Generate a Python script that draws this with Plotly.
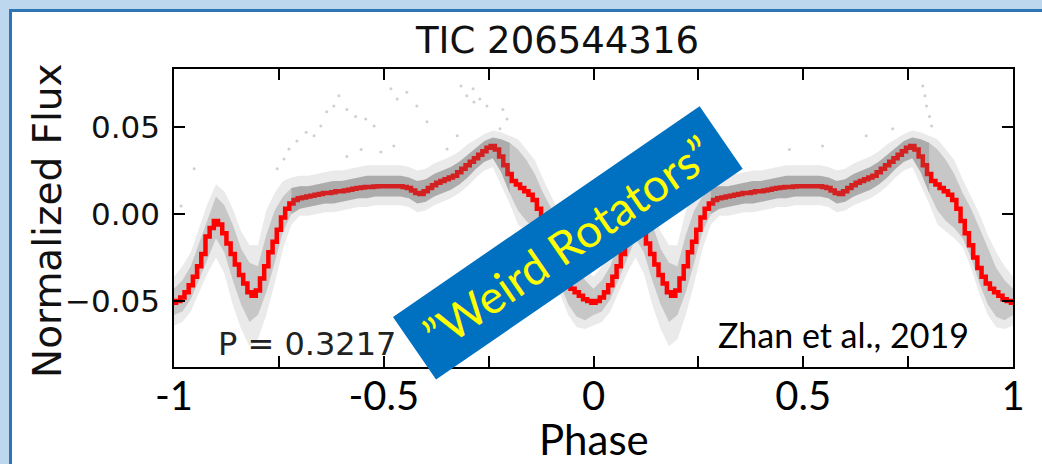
import numpy as np
import plotly.graph_objects as go

# ---- folded light curve of TIC 206544316 (one cycle, phase 0 .. 1) ----
# binned flux, bin width 0.01 in phase
bin_phase = np.round(np.arange(0.0, 1.0, 0.01), 2)
bin_flux = [
    -0.051, -0.050, -0.048, -0.045, -0.041, -0.036, -0.030, -0.023, -0.013, -0.008,
    -0.004, -0.006, -0.011, -0.017, -0.023, -0.029, -0.035, -0.040, -0.045, -0.047,
    -0.044, -0.037, -0.030, -0.022, -0.016, -0.009, -0.002, 0.003, 0.006, 0.008,
    0.009, 0.0095, 0.010, 0.0105, 0.011, 0.0115, 0.012, 0.012, 0.0125, 0.013,
    0.013, 0.0135, 0.014, 0.0145, 0.015, 0.0152, 0.0155, 0.0155, 0.0158, 0.016,
    0.016, 0.016, 0.016, 0.016, 0.016, 0.0155, 0.015, 0.0135, 0.012, 0.0115,
    0.013, 0.015, 0.0165, 0.018, 0.019, 0.020, 0.021, 0.022, 0.024, 0.026,
    0.028, 0.030, 0.032, 0.034, 0.036, 0.038, 0.039, 0.037, 0.033, 0.028,
    0.023, 0.019, 0.017, 0.015, 0.013, 0.011, 0.008, 0.003, -0.004, -0.011,
    -0.018, -0.025, -0.031, -0.036, -0.040, -0.043, -0.045, -0.047, -0.049, -0.050,
]

# spread of the unbinned photometry, sampled every 0.02 in phase
band_phase = np.round(np.arange(0.0, 1.001, 0.02), 2)
core_hi = [
    -0.043, -0.038, -0.030, -0.017, -0.004, 0.010, 0.005, -0.006, -0.020, -0.028,
    -0.030, -0.012, 0.002, 0.010, 0.015, 0.016, 0.016, 0.017, 0.018, 0.019,
    0.019, 0.020, 0.021, 0.022, 0.022, 0.022, 0.022, 0.022, 0.021, 0.019,
    0.020, 0.023, 0.025, 0.027, 0.030, 0.034, 0.038, 0.042, 0.044, 0.043,
    0.041, 0.037, 0.031, 0.023, 0.012, 0.003, -0.008, -0.020, -0.031, -0.038,
    -0.043,
]
core_lo = [
    -0.058, -0.056, -0.049, -0.037, -0.026, -0.014, -0.022, -0.038, -0.052, -0.062,
    -0.058, -0.045, -0.028, -0.010, 0.000, 0.003, 0.004, 0.005, 0.006, 0.006,
    0.007, 0.008, 0.009, 0.009, 0.010, 0.010, 0.010, 0.010, 0.009, 0.006,
    0.007, 0.010, 0.012, 0.014, 0.017, 0.021, 0.026, 0.030, 0.032, 0.024,
    0.012, 0.002, -0.004, -0.008, -0.014, -0.025, -0.040, -0.052, -0.059, -0.061,
    -0.058,
]
outer_hi = [
    -0.036, -0.030, -0.022, -0.008, 0.006, 0.017, 0.013, 0.003, -0.010, -0.018,
    -0.018, 0.002, 0.012, 0.019, 0.021, 0.022, 0.022, 0.023, 0.024, 0.025,
    0.025, 0.026, 0.027, 0.028, 0.028, 0.028, 0.028, 0.028, 0.027, 0.025,
    0.026, 0.029, 0.031, 0.033, 0.036, 0.040, 0.043, 0.046, 0.048, 0.047,
    0.045, 0.043, 0.037, 0.031, 0.020, 0.010, 0.000, -0.012, -0.022, -0.030,
    -0.036,
]
outer_lo = [
    -0.064, -0.062, -0.056, -0.045, -0.034, -0.025, -0.034, -0.052, -0.066, -0.076,
    -0.072, -0.058, -0.040, -0.020, -0.006, -0.001, -0.001, 0.000, 0.001, 0.001,
    0.002, 0.003, 0.004, 0.004, 0.005, 0.005, 0.005, 0.005, 0.004, 0.001,
    0.002, 0.005, 0.007, 0.009, 0.012, 0.016, 0.021, 0.025, 0.027, 0.017,
    0.006, -0.006, -0.010, -0.014, -0.019, -0.031, -0.046, -0.058, -0.065, -0.066,
    -0.064,
]

# scattered individual measurements well off the main sequence
stray_phase = [
    -0.983, -0.952, -0.754, -0.738, -0.726, -0.707, -0.685, -0.666, -0.650, -0.636,
    -0.619, -0.607, -0.588, -0.567, -0.543, -0.523, -0.588, -0.554, -0.483, -0.468,
    -0.445, -0.421, -0.507, -0.476, -0.316, -0.302, -0.285, -0.397, -0.349, -0.325,
    -0.287, -0.271, -0.254, -0.216, -0.206, -0.223,
    0.785, 0.790, 0.794, 0.801, 0.806, 0.650, 0.467, 0.546, 0.713,
]
stray_flux = [
    0.0046, 0.026, 0.026, 0.0316, 0.0374, 0.042, 0.047, 0.045, 0.0506, 0.0587,
    0.062, 0.068, 0.060, 0.056, 0.0546, 0.0506, 0.033, 0.037, 0.072, 0.066,
    0.070, 0.062, 0.0356, 0.039, 0.0736, 0.068, 0.0644, 0.053, 0.0374, 0.045,
    0.072, 0.066, 0.062, 0.060, 0.0546, 0.049,
    0.0736, 0.068, 0.062, 0.056, 0.0506, 0.045, 0.037, 0.039, 0.049,
]

x_tick_vals = [-1, -0.75, -0.5, -0.25, 0, 0.25, 0.5, 0.75, 1]
x_tick_text = ["-1", "", "-0.5", "", "0", "", "0.5", "", "1"]
y_tick_vals = [-0.05, 0.0, 0.05]
y_tick_text = ["\u22120.05", "0.00", "0.05"]

# ---- page geometry (pixels) ----
W, H = 1042, 464
L, R, T, B = 174, 1013, 69, 367


def px(x):
    return (x - L) / (R - L)


def py(y):
    return (B - y) / (B - T)


fig = go.Figure()

cycles = [-1.0, 0.0]

# outer (sparse) envelope of the photometry
for c in cycles:
    xs = list(band_phase + c) + list((band_phase + c)[::-1])
    ys = list(outer_hi) + list(outer_lo[::-1])
    fig.add_trace(go.Scatter(x=xs, y=ys, mode="lines", fill="toself",
                             fillcolor="rgba(140,140,140,0.18)",
                             line=dict(width=0, color="rgba(0,0,0,0)"),
                             hoverinfo="skip", showlegend=False))
# dense core of the photometry
for c in cycles:
    xs = list(band_phase + c) + list((band_phase + c)[::-1])
    ys = list(core_hi) + list(core_lo[::-1])
    fig.add_trace(go.Scatter(x=xs, y=ys, mode="lines", fill="toself",
                             fillcolor="rgba(120,120,120,0.30)",
                             line=dict(width=0, color="rgba(0,0,0,0)"),
                             hoverinfo="skip", showlegend=False))

fig.add_trace(go.Scatter(x=stray_phase, y=stray_flux, mode="markers",
                         marker=dict(size=3, color="rgba(120,120,120,0.35)"),
                         hoverinfo="skip", showlegend=False))

# binned curve, repeated over both cycles
curve_x = np.concatenate([bin_phase - 1.0, bin_phase, [1.0]])
curve_y = np.concatenate([bin_flux, bin_flux, [bin_flux[0]]])
fig.add_trace(go.Scatter(x=curve_x, y=curve_y, mode="lines",
                         line=dict(color="#ff0000", width=4.5, shape="hvh"),
                         hoverinfo="skip", showlegend=False))

# dense photometry lying over the plateau of the binned curve
k0, k1 = 14, 41
for c in cycles:
    seg = band_phase[k0:k1] + c
    xs = list(seg) + list(seg[::-1])
    ys = list(core_hi[k0:k1]) + list(core_lo[k0:k1][::-1])
    fig.add_trace(go.Scatter(x=xs, y=ys, mode="lines", fill="toself",
                             fillcolor="rgba(110,110,110,0.30)",
                             line=dict(width=0, color="rgba(0,0,0,0)"),
                             hoverinfo="skip", showlegend=False))

axis_common = dict(showline=True, linecolor="black", linewidth=1.5, mirror="ticks",
                   ticks="inside", ticklen=11, tickwidth=1.5, tickcolor="black",
                   showgrid=False, zeroline=False)

fig.update_xaxes(range=[-1, 1], tickmode="array", tickvals=x_tick_vals,
                 ticktext=x_tick_text, tickfont=dict(family="Lato", size=40, color="black"),
                 ticklabelstandoff=-7, **axis_common)
fig.update_yaxes(range=[-0.0879, 0.0833], tickmode="array", tickvals=y_tick_vals,
                 ticktext=y_tick_text, tickfont=dict(family="DejaVu Sans", size=31, color="#111"),
                 ticklabelstandoff=6, **axis_common)

dv = "DejaVu Sans"
annotations = [
    dict(text="TIC 206544316", x=px(557), y=py(40), xanchor="center", yanchor="middle",
         font=dict(family=dv, size=37, color="#111")),
    dict(text="Normalized Flux", x=px(48), y=py(221), xanchor="center", yanchor="middle",
         textangle=-90, font=dict(family=dv, size=39, color="#111")),
    dict(text="Phase", x=px(594), y=py(439), xanchor="center", yanchor="middle",
         font=dict(family="Lato", size=42, color="black")),
    dict(text="P = 0.3217", x=px(216), y=py(344), xanchor="left", yanchor="middle",
         font=dict(family=dv, size=32, color="#222")),
    dict(text="Zhan et al., 2019", x=px(971), y=py(334), xanchor="right", yanchor="middle",
         font=dict(family="Lato", size=34, color="black")),
    dict(text="\u201dWeird Rotators\u201d", x=px(567.75), y=py(243.25),
         xanchor="center", yanchor="middle", textangle=-34.5,
         width=372, height=76, borderpad=0, borderwidth=0, bgcolor="#0070C0",
         font=dict(family="Lato", size=46, color="#FFFF00")),
]
for a in annotations:
    a.update(xref="paper", yref="paper", showarrow=False)

fig.update_layout(
    width=W, height=H, autosize=False,
    margin=dict(l=L, r=W - R, t=T, b=H - B, pad=0),
    paper_bgcolor="#BDD7EE", plot_bgcolor="white",
    annotations=annotations,
    shapes=[dict(type="rect", xref="paper", yref="paper", layer="below",
                 x0=px(10.5), x1=px(1080), y0=py(500), y1=py(10.5),
                 fillcolor="white", line=dict(color="#2E75B6", width=3))],
)

fig.write_html("out.html")
